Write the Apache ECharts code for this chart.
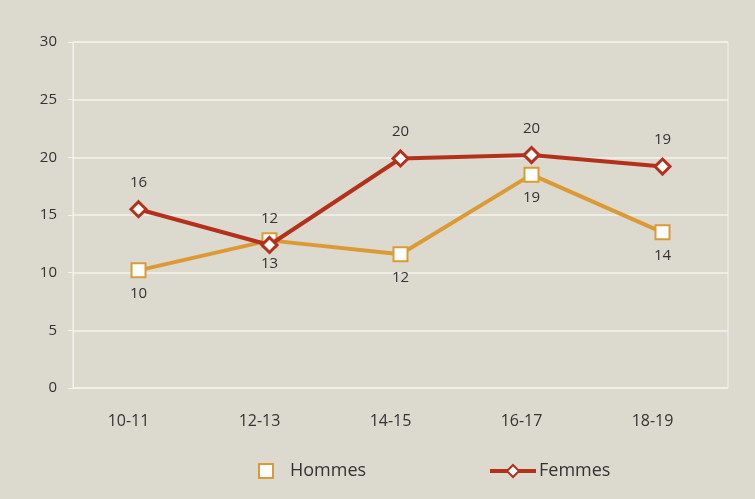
<!DOCTYPE html>
<html>
<head>
<meta charset="utf-8">
<script src="https://cdn.jsdelivr.net/npm/echarts@6/dist/echarts.min.js"></script>
<style>
html,body{margin:0;padding:0;background:#dcd9cf;}
#c{width:755px;height:499px;}
</style>
</head>
<body>
<div id="c"></div>
<script>
const categories = ['10-11', '12-13', '14-15', '16-17', '18-19'];
const hommes = [10.2, 12.8, 11.6, 18.5, 13.5];
const hommesLabels = ['10', '13', '12', '19', '14'];
const femmes = [15.5, 12.4, 19.9, 20.2, 19.2];
const femmesLabels = ['16', '12', '20', '20', '19'];
const yTicks = [0, 5, 10, 15, 20, 25, 30];

const FONT = '"Open Sans"';
const TXT = '#333';
const ORANGE = '#dc9a34';
const RED = '#b5301a';
const GRIDC = '#f4f2ec';

const chart = echarts.init(document.getElementById('c'), null, {renderer: 'canvas'});
chart.setOption({
  backgroundColor: '#dcd9cf',
  animation: false,
  grid: {left: 73, right: 27, top: 42, bottom: 111, show: true, borderColor: GRIDC, borderWidth: 1, backgroundColor: 'transparent'},
  legend: [
    {
      data: [{name: 'Hommes', icon: 'rect', itemStyle: {color: '#fff', borderColor: ORANGE, borderWidth: 2}}],
      left: 253, top: 457, itemWidth: 14, itemHeight: 14,
      textStyle: {fontFamily: FONT, fontSize: 18, color: TXT, padding: [0, 0, 0, 12]}
    },
    {
      data: ['Femmes'],
      left: 483, top: 457, itemWidth: 46, itemHeight: 15, itemGap: 0,
      lineStyle: {width: 4},
      textStyle: {fontFamily: FONT, fontSize: 18, color: TXT, padding: [0, 0, 0, -2]}
    }
  ],
  xAxis: {
    type: 'category', data: categories, boundaryGap: true,
    axisLine: {show: false}, axisTick: {show: false},
    axisLabel: {fontFamily: FONT, fontSize: 16, color: TXT, margin: 25, padding: [0, 20, 0, 0]}
  },
  yAxis: {
    type: 'value', min: 0, max: 30, interval: 5,
    axisLine: {show: true, lineStyle: {color: GRIDC, width: 1}},
    axisTick: {show: true, length: 5, lineStyle: {color: GRIDC}},
    splitLine: {show: true, lineStyle: {color: GRIDC, width: 1.5}},
    axisLabel: {fontFamily: FONT, fontSize: 15, color: TXT, margin: 16,
      formatter: v => yTicks.includes(v) ? String(v) : ''}
  },
  series: [
    {
      name: 'Hommes', type: 'line', data: hommes,
      symbol: 'rect', symbolSize: 14,
      lineStyle: {color: ORANGE, width: 4},
      itemStyle: {color: '#fff', borderColor: ORANGE, borderWidth: 2},
      label: {show: true, position: 'bottom', distance: 8, fontFamily: FONT, fontSize: 15, color: TXT,
        formatter: p => hommesLabels[p.dataIndex]},
      z: 2
    },
    {
      name: 'Femmes', type: 'line', data: femmes,
      symbol: 'diamond', symbolSize: 15,
      lineStyle: {color: RED, width: 4},
      itemStyle: {color: '#fff', borderColor: RED, borderWidth: 3},
      label: {show: true, position: 'top', distance: 10, fontFamily: FONT, fontSize: 15, color: TXT,
        formatter: p => femmesLabels[p.dataIndex]},
      z: 3
    }
  ]
});
</script>
</body>
</html>
